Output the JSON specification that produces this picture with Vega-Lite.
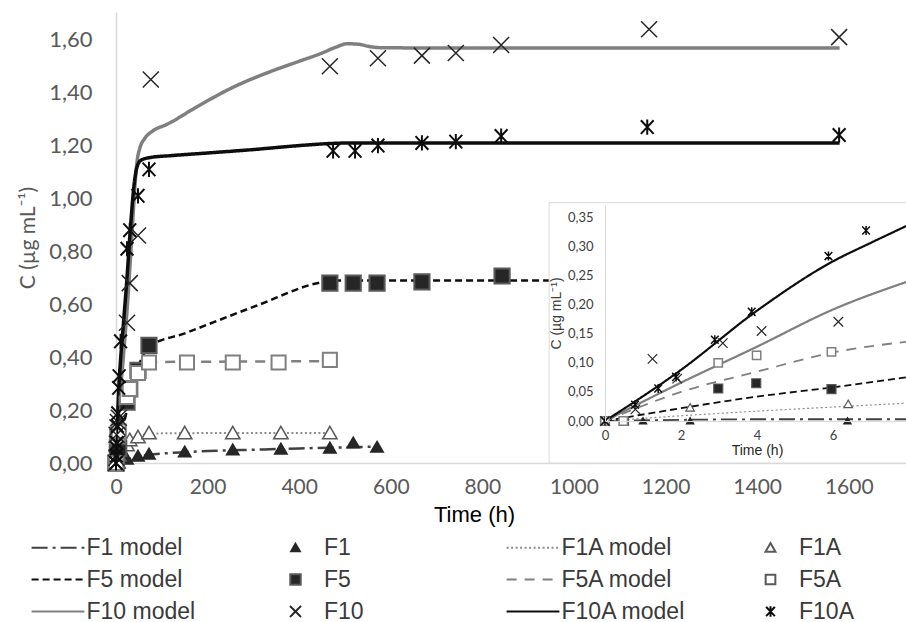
{
  "$schema": "https://vega.github.io/schema/vega-lite/v6.json",
  "width": 790,
  "height": 451,
  "autosize": {"type": "none"},
  "padding": {"left": 116, "top": 12, "right": 0, "bottom": 159},
  "background": "white",
  "config": {"view": {"stroke": null}, "font": "Liberation Sans"},
  "params": [
    {"name": "lg", "value": {
      "F1 model": {"fi": "transparent", "st": "#404040", "da": [16, 5, 3, 5]},
      "F1": {"fi": "#262626", "st": "#262626", "da": [1, 0]},
      "F1A model": {"fi": "transparent", "st": "#8c8c8c", "da": [2, 2.5]},
      "F1A": {"fi": "white", "st": "#595959", "da": [1, 0]},
      "F5 model": {"fi": "transparent", "st": "#0d0d0d", "da": [7, 4]},
      "F5": {"fi": "#262626", "st": "#595959", "da": [1, 0]},
      "F5A model": {"fi": "transparent", "st": "#808080", "da": [10, 8]},
      "F5A": {"fi": "white", "st": "#595959", "da": [1, 0]},
      "F10 model": {"fi": "transparent", "st": "#7f7f7f", "da": [1, 0]},
      "F10": {"fi": "transparent", "st": "#262626", "da": [1, 0]},
      "F10A model": {"fi": "transparent", "st": "#0d0d0d", "da": [1, 0]},
      "F10A": {"fi": "transparent", "st": "#0d0d0d", "da": [1, 0]}
    }}
  ],
  "datasets": {
    "mdl": [
      {"s": "F1 model", "t": 0, "c": 0}, {"s": "F1 model", "t": 2, "c": 0.002}, {"s": "F1 model", "t": 4, "c": 0.003}, {"s": "F1 model", "t": 6, "c": 0.003}, {"s": "F1 model", "t": 8, "c": 0.003}, {"s": "F1 model", "t": 24, "c": 0.012}, {"s": "F1 model", "t": 48, "c": 0.024}, {"s": "F1 model", "t": 72, "c": 0.031}, {"s": "F1 model", "t": 120, "c": 0.038}, {"s": "F1 model", "t": 200, "c": 0.045}, {"s": "F1 model", "t": 300, "c": 0.05}, {"s": "F1 model", "t": 400, "c": 0.055}, {"s": "F1 model", "t": 470, "c": 0.058}, {"s": "F1 model", "t": 570, "c": 0.062},
      {"s": "F1A model", "t": 0, "c": 0}, {"s": "F1A model", "t": 2, "c": 0.009}, {"s": "F1A model", "t": 4, "c": 0.017}, {"s": "F1A model", "t": 6, "c": 0.024}, {"s": "F1A model", "t": 8, "c": 0.031}, {"s": "F1A model", "t": 16, "c": 0.05}, {"s": "F1A model", "t": 24, "c": 0.068}, {"s": "F1A model", "t": 36, "c": 0.088}, {"s": "F1A model", "t": 48, "c": 0.1}, {"s": "F1A model", "t": 72, "c": 0.11}, {"s": "F1A model", "t": 100, "c": 0.112}, {"s": "F1A model", "t": 200, "c": 0.113}, {"s": "F1A model", "t": 467, "c": 0.113},
      {"s": "F5 model", "t": 0, "c": 0}, {"s": "F5 model", "t": 2, "c": 0.022}, {"s": "F5 model", "t": 4, "c": 0.042}, {"s": "F5 model", "t": 6, "c": 0.058}, {"s": "F5 model", "t": 8, "c": 0.076}, {"s": "F5 model", "t": 16, "c": 0.14}, {"s": "F5 model", "t": 24, "c": 0.2}, {"s": "F5 model", "t": 36, "c": 0.29}, {"s": "F5 model", "t": 48, "c": 0.36}, {"s": "F5 model", "t": 60, "c": 0.41}, {"s": "F5 model", "t": 72, "c": 0.44}, {"s": "F5 model", "t": 150, "c": 0.49}, {"s": "F5 model", "t": 300, "c": 0.59}, {"s": "F5 model", "t": 455, "c": 0.685}, {"s": "F5 model", "t": 480, "c": 0.69}, {"s": "F5 model", "t": 1580, "c": 0.69},
      {"s": "F5A model", "t": 0, "c": 0}, {"s": "F5A model", "t": 2, "c": 0.05}, {"s": "F5A model", "t": 4, "c": 0.085}, {"s": "F5A model", "t": 6, "c": 0.118}, {"s": "F5A model", "t": 8, "c": 0.137}, {"s": "F5A model", "t": 16, "c": 0.2}, {"s": "F5A model", "t": 24, "c": 0.26}, {"s": "F5A model", "t": 36, "c": 0.32}, {"s": "F5A model", "t": 48, "c": 0.35}, {"s": "F5A model", "t": 72, "c": 0.378}, {"s": "F5A model", "t": 100, "c": 0.382}, {"s": "F5A model", "t": 200, "c": 0.383}, {"s": "F5A model", "t": 467, "c": 0.385},
      {"s": "F10 model", "t": 0, "c": 0}, {"s": "F10 model", "t": 2, "c": 0.066}, {"s": "F10 model", "t": 4, "c": 0.128}, {"s": "F10 model", "t": 6, "c": 0.192}, {"s": "F10 model", "t": 8, "c": 0.241}, {"s": "F10 model", "t": 15, "c": 0.38}, {"s": "F10 model", "t": 25, "c": 0.6}, {"s": "F10 model", "t": 35, "c": 0.87}, {"s": "F10 model", "t": 41, "c": 1.04}, {"s": "F10 model", "t": 46, "c": 1.14}, {"s": "F10 model", "t": 52, "c": 1.19}, {"s": "F10 model", "t": 62, "c": 1.225}, {"s": "F10 model", "t": 80, "c": 1.255}, {"s": "F10 model", "t": 111, "c": 1.28}, {"s": "F10 model", "t": 180, "c": 1.35}, {"s": "F10 model", "t": 255, "c": 1.42}, {"s": "F10 model", "t": 330, "c": 1.475}, {"s": "F10 model", "t": 402, "c": 1.52}, {"s": "F10 model", "t": 450, "c": 1.55}, {"s": "F10 model", "t": 480, "c": 1.572}, {"s": "F10 model", "t": 505, "c": 1.585}, {"s": "F10 model", "t": 530, "c": 1.583}, {"s": "F10 model", "t": 555, "c": 1.574}, {"s": "F10 model", "t": 580, "c": 1.57}, {"s": "F10 model", "t": 700, "c": 1.569}, {"s": "F10 model", "t": 1580, "c": 1.569},
      {"s": "F10A model", "t": 0, "c": 0}, {"s": "F10A model", "t": 2, "c": 0.088}, {"s": "F10A model", "t": 4, "c": 0.19}, {"s": "F10A model", "t": 6, "c": 0.275}, {"s": "F10A model", "t": 7, "c": 0.307}, {"s": "F10A model", "t": 8, "c": 0.338}, {"s": "F10A model", "t": 15, "c": 0.5}, {"s": "F10A model", "t": 24, "c": 0.7}, {"s": "F10A model", "t": 32, "c": 0.9}, {"s": "F10A model", "t": 40, "c": 1.06}, {"s": "F10A model", "t": 46, "c": 1.12}, {"s": "F10A model", "t": 55, "c": 1.145}, {"s": "F10A model", "t": 75, "c": 1.155}, {"s": "F10A model", "t": 120, "c": 1.162}, {"s": "F10A model", "t": 200, "c": 1.172}, {"s": "F10A model", "t": 300, "c": 1.185}, {"s": "F10A model", "t": 400, "c": 1.2}, {"s": "F10A model", "t": 470, "c": 1.208}, {"s": "F10A model", "t": 520, "c": 1.21}, {"s": "F10A model", "t": 1580, "c": 1.21}
    ],
    "pts": [
      {"s": "F1", "t": 0, "c": 0}, {"s": "F1", "t": 1, "c": 0}, {"s": "F1", "t": 2.24, "c": 0}, {"s": "F1", "t": 6.38, "c": 0}, {"s": "F1", "t": 24, "c": 0.015}, {"s": "F1", "t": 48, "c": 0.026}, {"s": "F1", "t": 72, "c": 0.034}, {"s": "F1", "t": 150, "c": 0.042}, {"s": "F1", "t": 255, "c": 0.05}, {"s": "F1", "t": 360, "c": 0.053}, {"s": "F1", "t": 467, "c": 0.057}, {"s": "F1", "t": 518, "c": 0.076}, {"s": "F1", "t": 570, "c": 0.06},
      {"s": "F1A", "t": 0, "c": 0}, {"s": "F1A", "t": 0.5, "c": 0}, {"s": "F1A", "t": 2.24, "c": 0.023}, {"s": "F1A", "t": 6.4, "c": 0.029}, {"s": "F1A", "t": 24, "c": 0.068}, {"s": "F1A", "t": 30, "c": 0.087}, {"s": "F1A", "t": 48, "c": 0.098}, {"s": "F1A", "t": 72, "c": 0.113}, {"s": "F1A", "t": 150, "c": 0.113}, {"s": "F1A", "t": 255, "c": 0.113}, {"s": "F1A", "t": 360, "c": 0.113}, {"s": "F1A", "t": 467, "c": 0.113},
      {"s": "F5", "t": 0, "c": 0}, {"s": "F5", "t": 0.5, "c": 0}, {"s": "F5", "t": 2.98, "c": 0.056}, {"s": "F5", "t": 3.98, "c": 0.065}, {"s": "F5", "t": 5.96, "c": 0.055}, {"s": "F5", "t": 24, "c": 0.23}, {"s": "F5", "t": 30, "c": 0.28}, {"s": "F5", "t": 48, "c": 0.35}, {"s": "F5", "t": 72, "c": 0.445}, {"s": "F5", "t": 467, "c": 0.68}, {"s": "F5", "t": 518, "c": 0.68}, {"s": "F5", "t": 570, "c": 0.68}, {"s": "F5", "t": 668, "c": 0.685}, {"s": "F5", "t": 843, "c": 0.707},
      {"s": "F5A", "t": 0, "c": 0}, {"s": "F5A", "t": 0.48, "c": 0}, {"s": "F5A", "t": 2.98, "c": 0.1}, {"s": "F5A", "t": 3.99, "c": 0.113}, {"s": "F5A", "t": 5.96, "c": 0.119}, {"s": "F5A", "t": 24, "c": 0.25}, {"s": "F5A", "t": 30, "c": 0.28}, {"s": "F5A", "t": 48, "c": 0.34}, {"s": "F5A", "t": 72, "c": 0.38}, {"s": "F5A", "t": 155, "c": 0.38}, {"s": "F5A", "t": 255, "c": 0.38}, {"s": "F5A", "t": 355, "c": 0.38}, {"s": "F5A", "t": 467, "c": 0.39},
      {"s": "F10", "t": 0, "c": 0}, {"s": "F10", "t": 0.8, "c": 0.02}, {"s": "F10", "t": 1.25, "c": 0.107}, {"s": "F10", "t": 1.9, "c": 0.073}, {"s": "F10", "t": 3.1, "c": 0.134}, {"s": "F10", "t": 4.12, "c": 0.155}, {"s": "F10", "t": 6.14, "c": 0.171}, {"s": "F10", "t": 24, "c": 0.53}, {"s": "F10", "t": 30, "c": 0.68}, {"s": "F10", "t": 48, "c": 0.86}, {"s": "F10", "t": 76, "c": 1.45}, {"s": "F10", "t": 467, "c": 1.5}, {"s": "F10", "t": 572, "c": 1.53}, {"s": "F10", "t": 668, "c": 1.54}, {"s": "F10", "t": 742, "c": 1.55}, {"s": "F10", "t": 841, "c": 1.58}, {"s": "F10", "t": 1164, "c": 1.64}, {"s": "F10", "t": 1579, "c": 1.61},
      {"s": "F10A", "t": 0, "c": 0}, {"s": "F10A", "t": 0.79, "c": 0.028}, {"s": "F10A", "t": 1.4, "c": 0.056}, {"s": "F10A", "t": 1.87, "c": 0.076}, {"s": "F10A", "t": 2.89, "c": 0.14}, {"s": "F10A", "t": 3.86, "c": 0.188}, {"s": "F10A", "t": 5.88, "c": 0.284}, {"s": "F10A", "t": 6.87, "c": 0.328}, {"s": "F10A", "t": 10, "c": 0.46}, {"s": "F10A", "t": 24, "c": 0.81}, {"s": "F10A", "t": 30, "c": 0.88}, {"s": "F10A", "t": 48, "c": 1.01}, {"s": "F10A", "t": 72, "c": 1.11}, {"s": "F10A", "t": 474, "c": 1.18}, {"s": "F10A", "t": 522, "c": 1.18}, {"s": "F10A", "t": 572, "c": 1.2}, {"s": "F10A", "t": 668, "c": 1.21}, {"s": "F10A", "t": 742, "c": 1.215}, {"s": "F10A", "t": 841, "c": 1.236}, {"s": "F10A", "t": 1160, "c": 1.27}, {"s": "F10A", "t": 1579, "c": 1.24}
    ]
  },
  "layer": [
    {
      "layer": [
        {
          "data": {"name": "mdl"},
          "mark": {"type": "line", "interpolate": "monotone", "strokeCap": "butt", "clip": false},
          "encoding": {
            "x": {"field": "t", "type": "quantitative", "scale": {"domain": [0, 1725], "nice": false, "zero": false},
              "axis": {"orient": "bottom", "values": [0, 200, 400, 600, 800, 1000, 1200, 1400, 1600], "format": "d", "labelFont": "Lato", "labelFontSize": 21, "labelColor": "#595959", "ticks": false, "grid": false, "domainColor": "#d9d9d9", "domainWidth": 1.5, "labelPadding": 13, "labelFlush": false, "labelOverlap": false, "title": "Time (h)", "titleFont": "Liberation Sans", "titleFontSize": 22, "titleFontWeight": "normal", "titleColor": "#000000", "titlePadding": 7, "titleX": 358}},
            "y": {"field": "c", "type": "quantitative", "scale": {"domain": [0, 1.705], "nice": false, "zero": false},
              "axis": {"orient": "left", "values": [0, 0.2, 0.4, 0.6, 0.8, 1, 1.2, 1.4, 1.6], "labelExpr": "replace(format(datum.value, '.2f'), '.', ',')", "labelFont": "Lato", "labelFontSize": 22, "labelColor": "#595959", "ticks": false, "grid": false, "domainColor": "#d9d9d9", "domainWidth": 1.5, "labelPadding": 24, "title": "C (µg mL⁻¹)", "titleFont": "Lato", "titleFontSize": 21, "titleFontWeight": "normal", "titleColor": "#595959", "titlePadding": 10}},
            "stroke": {"field": "s", "type": "nominal", "legend": null, "scale": {"domain": ["F10A", "F10A model", "F10", "F10 model", "F5A", "F5A model", "F5", "F5 model", "F1A", "F1A model", "F1", "F1 model"], "range": ["#0d0d0d", "#0d0d0d", "#262626", "#7f7f7f", "#7f7f7f", "#808080", "#595959", "#0d0d0d", "#595959", "#8c8c8c", "#262626", "#404040"]}},
            "strokeDash": {"field": "s", "type": "nominal", "legend": null, "scale": {"domain": ["F10A", "F10A model", "F10", "F10 model", "F5A", "F5A model", "F5", "F5 model", "F1A", "F1A model", "F1", "F1 model"], "range": [[1, 0], [1, 0], [1, 0], [1, 0], [1, 0], [10, 8], [1, 0], [7, 4], [1, 0], [2, 2.5], [1, 0], [16, 5, 3, 5]]}},
            "strokeWidth": {"condition": [{"test": "datum.s == 'F10 model' || datum.s == 'F10A model'", "value": 3.5}, {"test": "datum.s == 'F1A model'", "value": 2}], "value": 2.5}
          }
        },
        {
          "data": {"name": "pts"},
          "mark": {"type": "point", "size": 256, "opacity": 1, "clip": false},
          "encoding": {
            "x": {"field": "t", "type": "quantitative"},
            "y": {"field": "c", "type": "quantitative"},
            "shape": {"field": "s", "type": "nominal",
              "scale": {"domain": ["F1 model", "F1", "F1A model", "F1A", "F5 model", "F5", "F5A model", "F5A", "F10 model", "F10", "F10A model", "F10A"], "range": ["M-4.8,0L4.8,0", "M0,-0.72L0.78,0.62L-0.78,0.62Z", "M-4.8,0L4.8,0", "M0,-0.85L0.9,0.72L-0.9,0.72Z", "M-4.8,0L4.8,0", "M-0.95,-0.95H0.95V0.95H-0.95Z", "M-4.8,0L4.8,0", "M-0.88,-0.88H0.88V0.88H-0.88Z", "M-4.8,0L4.8,0", "M-1,-1L1,1M1,-1L-1,1", "M-4.8,0L4.8,0", "M-0.8,-0.85L0.8,0.85M0.8,-0.85L-0.8,0.85M0,-0.95L0,0.95"]},
              "legend": {"orient": "none", "legendX": -85, "legendY": 524, "columns": 4, "direction": "horizontal", "gridAlign": "all", "columnPadding": 53.5, "rowPadding": 8, "symbolSize": 121, "symbolStrokeWidth": 2, "symbolOffset": 15.5, "labelOffset": 17, "labelFont": "Liberation Sans", "labelFontSize": 23, "labelColor": "#3a3a3a", "labelLimit": 300, "title": null, "padding": 0,
                "encoding": {"symbols": {"fill": {"value": {"expr": "lg[datum.value].fi"}}, "stroke": {"value": {"expr": "lg[datum.value].st"}}, "strokeDash": {"value": {"expr": "lg[datum.value].da"}}, "opacity": {"value": 1}}}}},
            "fill": {"field": "s", "type": "nominal", "legend": null, "scale": {"domain": ["F10A", "F10A model", "F10", "F10 model", "F5A", "F5A model", "F5", "F5 model", "F1A", "F1A model", "F1", "F1 model"], "range": ["transparent", "transparent", "transparent", "transparent", "white", "transparent", "#262626", "transparent", "white", "transparent", "#262626", "transparent"]}},
            "stroke": {"field": "s", "type": "nominal", "legend": null},
            "strokeWidth": {"condition": [{"test": "datum.s == 'F5' || datum.s == 'F5A' || datum.s == 'F10A'", "value": 2}], "value": 1.5}
          }
        }
      ]
    },
    {
      "layer": [
        {
          "data": {"values": [{}]},
          "mark": {"type": "rect", "fill": "white", "stroke": "#d9d9d9", "strokeWidth": 1, "clip": false},
          "encoding": {
            "x": {"datum": -1.47, "type": "quantitative", "scale": {"domain": [0, 8], "range": [489, 793], "nice": false, "zero": false},
              "axis": {"orient": "bottom", "offset": -42, "values": [0, 2, 4, 6, 8], "format": "d", "labelFont": "Lato", "labelFontSize": 13, "labelColor": "#404040", "ticks": false, "grid": false, "domainColor": "#d9d9d9", "labelPadding": 8, "labelFlush": false, "title": "Time (h)", "titleFont": "Liberation Sans", "titleFontSize": 14, "titleFontWeight": "normal", "titleColor": "#262626", "titlePadding": 1, "zindex": 1}},
            "x2": {"datum": 14},
            "y": {"datum": 0.376, "type": "quantitative", "scale": {"domain": [0, 0.372], "range": [409, 193], "nice": false, "zero": false},
              "axis": {"orient": "left", "offset": -489, "values": [0, 0.05, 0.1, 0.15, 0.2, 0.25, 0.3, 0.35], "labelExpr": "replace(format(datum.value, '.2f'), '.', ',')", "labelFont": "Lato", "labelFontSize": 13, "labelColor": "#404040", "ticks": false, "grid": false, "domainColor": "#d9d9d9", "labelPadding": 12, "title": "C (µg mL⁻¹)", "titleFont": "Liberation Sans", "titleFontSize": 14, "titleFontWeight": "normal", "titleColor": "#404040", "titlePadding": 4, "zindex": 1}},
            "y2": {"datum": -0.0724}
          }
        },
        {
          "data": {"name": "mdl"},
          "transform": [{"filter": "datum.t <= 9"}],
          "mark": {"type": "line", "interpolate": "monotone", "strokeCap": "butt", "clip": false},
          "encoding": {
            "x": {"field": "t", "type": "quantitative"},
            "y": {"field": "c", "type": "quantitative"},
            "stroke": {"field": "s", "type": "nominal", "legend": null},
            "strokeDash": {"field": "s", "type": "nominal", "legend": null},
            "strokeWidth": {"condition": [{"test": "datum.s == 'F10 model' || datum.s == 'F10A model'", "value": 2.2}, {"test": "datum.s == 'F1A model'", "value": 1.2}], "value": 1.8}
          }
        },
        {
          "data": {"name": "pts"},
          "transform": [{"filter": "datum.t <= 8"}],
          "mark": {"type": "point", "size": 90, "opacity": 1, "clip": false},
          "encoding": {
            "x": {"field": "t", "type": "quantitative"},
            "y": {"field": "c", "type": "quantitative"},
            "shape": {"field": "s", "type": "nominal"},
            "fill": {"field": "s", "type": "nominal", "legend": null},
            "stroke": {"field": "s", "type": "nominal", "legend": null},
            "strokeWidth": {"condition": [{"test": "datum.s == 'F5A' || datum.s == 'F10A'", "value": 1.5}], "value": 1.2}
          }
        }
      ]
    }
  ],
  "resolve": {"scale": {"x": "independent", "y": "independent"}}
}
